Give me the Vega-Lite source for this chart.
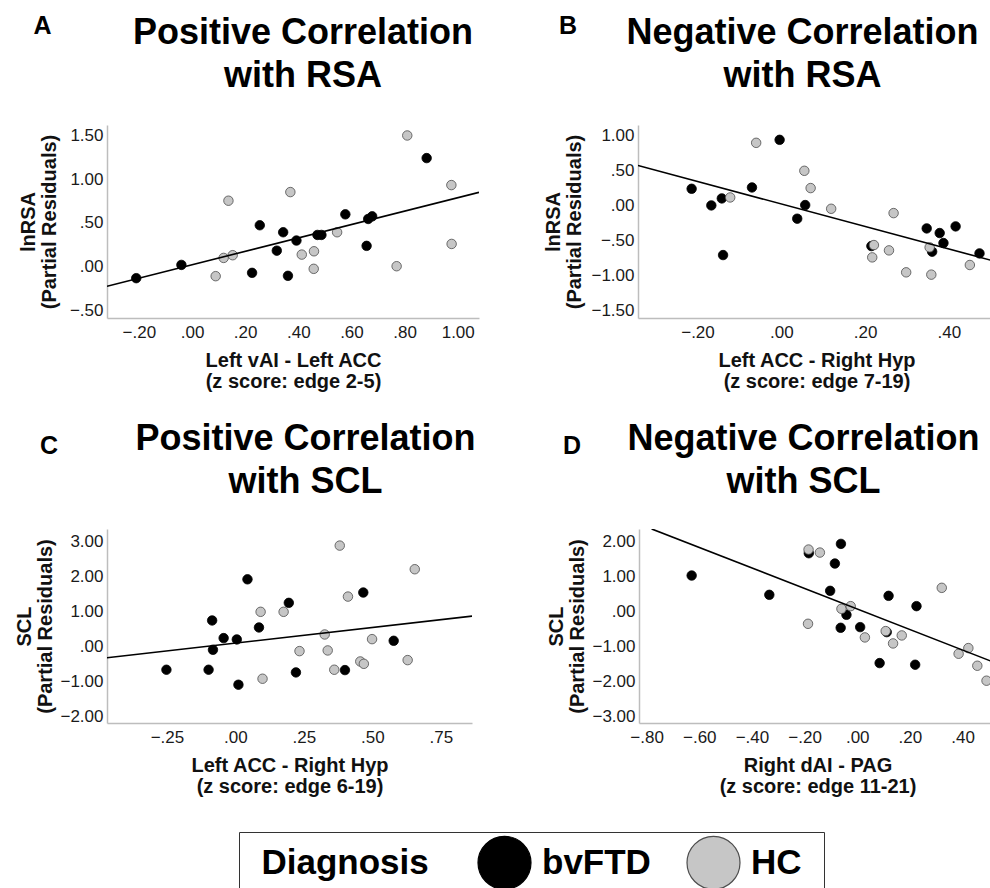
{
"$schema":"https://vega.github.io/schema/vega-lite/v6.json",
"background":"white",
"padding":{"left":14,"top":14,"right":0,"bottom":0},
"config":{
 "font":"Liberation Sans",
 "view":{"stroke":null},
 "axis":{"domainColor":"#bdbdbd","domainWidth":1.5,"ticks":false,"grid":false,"labelFont":"Liberation Sans","labelFontSize":17,"labelColor":"#1a1a1a","titleFont":"Liberation Sans","titleFontSize":20,"titleFontWeight":"bold","titleColor":"#111111","titleLineHeight":21},
 "axisX":{"labelPadding":6,"titlePadding":10},
 "axisY":{"labelPadding":4},
 "title":{"font":"Liberation Sans","fontSize":36,"fontWeight":"bold","color":"#000000","lineHeight":43}
},
"datasets":{
 "pts":[
  {"panel":"A","Diagnosis":"bvFTD","x":-0.21,"y":-0.134},
  {"panel":"A","Diagnosis":"bvFTD","x":-0.04,"y":0.018},
  {"panel":"A","Diagnosis":"bvFTD","x":0.226,"y":-0.073},
  {"panel":"A","Diagnosis":"bvFTD","x":0.255,"y":0.472},
  {"panel":"A","Diagnosis":"bvFTD","x":0.319,"y":0.181},
  {"panel":"A","Diagnosis":"bvFTD","x":0.343,"y":0.392},
  {"panel":"A","Diagnosis":"bvFTD","x":0.361,"y":-0.107},
  {"panel":"A","Diagnosis":"bvFTD","x":0.393,"y":0.297},
  {"panel":"A","Diagnosis":"bvFTD","x":0.472,"y":0.361},
  {"panel":"A","Diagnosis":"bvFTD","x":0.487,"y":0.361},
  {"panel":"A","Diagnosis":"bvFTD","x":0.577,"y":0.597},
  {"panel":"A","Diagnosis":"bvFTD","x":0.657,"y":0.236},
  {"panel":"A","Diagnosis":"bvFTD","x":0.663,"y":0.544},
  {"panel":"A","Diagnosis":"bvFTD","x":0.678,"y":0.574},
  {"panel":"A","Diagnosis":"bvFTD","x":0.883,"y":1.241},
  {"panel":"A","Diagnosis":"HC","x":0.089,"y":-0.111},
  {"panel":"A","Diagnosis":"HC","x":0.119,"y":0.098},
  {"panel":"A","Diagnosis":"HC","x":0.137,"y":0.753},
  {"panel":"A","Diagnosis":"HC","x":0.153,"y":0.129},
  {"panel":"A","Diagnosis":"HC","x":0.370,"y":0.852},
  {"panel":"A","Diagnosis":"HC","x":0.413,"y":0.136},
  {"panel":"A","Diagnosis":"HC","x":0.459,"y":0.174},
  {"panel":"A","Diagnosis":"HC","x":0.458,"y":-0.027},
  {"panel":"A","Diagnosis":"HC","x":0.546,"y":0.392},
  {"panel":"A","Diagnosis":"HC","x":0.770,"y":0.003},
  {"panel":"A","Diagnosis":"HC","x":0.810,"y":1.500},
  {"panel":"A","Diagnosis":"HC","x":0.976,"y":0.932},
  {"panel":"A","Diagnosis":"HC","x":0.977,"y":0.258},
  {"panel":"B","Diagnosis":"bvFTD","x":-0.214,"y":0.238},
  {"panel":"B","Diagnosis":"bvFTD","x":-0.167,"y":0.0},
  {"panel":"B","Diagnosis":"bvFTD","x":-0.142,"y":0.1},
  {"panel":"B","Diagnosis":"bvFTD","x":-0.139,"y":-0.71},
  {"panel":"B","Diagnosis":"bvFTD","x":-0.070,"y":0.257},
  {"panel":"B","Diagnosis":"bvFTD","x":-0.004,"y":0.938},
  {"panel":"B","Diagnosis":"bvFTD","x":0.038,"y":-0.19},
  {"panel":"B","Diagnosis":"bvFTD","x":0.057,"y":0.005},
  {"panel":"B","Diagnosis":"bvFTD","x":0.215,"y":-0.581},
  {"panel":"B","Diagnosis":"bvFTD","x":0.347,"y":-0.329},
  {"panel":"B","Diagnosis":"bvFTD","x":0.360,"y":-0.662},
  {"panel":"B","Diagnosis":"bvFTD","x":0.378,"y":-0.395},
  {"panel":"B","Diagnosis":"bvFTD","x":0.387,"y":-0.538},
  {"panel":"B","Diagnosis":"bvFTD","x":0.416,"y":-0.3},
  {"panel":"B","Diagnosis":"bvFTD","x":0.473,"y":-0.686},
  {"panel":"B","Diagnosis":"HC","x":-0.122,"y":0.114},
  {"panel":"B","Diagnosis":"HC","x":-0.060,"y":0.895},
  {"panel":"B","Diagnosis":"HC","x":0.055,"y":0.495},
  {"panel":"B","Diagnosis":"HC","x":0.070,"y":0.248},
  {"panel":"B","Diagnosis":"HC","x":0.119,"y":-0.048},
  {"panel":"B","Diagnosis":"HC","x":0.221,"y":-0.567},
  {"panel":"B","Diagnosis":"HC","x":0.217,"y":-0.743},
  {"panel":"B","Diagnosis":"HC","x":0.257,"y":-0.643},
  {"panel":"B","Diagnosis":"HC","x":0.268,"y":-0.11},
  {"panel":"B","Diagnosis":"HC","x":0.298,"y":-0.957},
  {"panel":"B","Diagnosis":"HC","x":0.354,"y":-0.6},
  {"panel":"B","Diagnosis":"HC","x":0.358,"y":-0.99},
  {"panel":"B","Diagnosis":"HC","x":0.450,"y":-0.852},
  {"panel":"C","Diagnosis":"bvFTD","x":-0.252,"y":-0.669},
  {"panel":"C","Diagnosis":"bvFTD","x":-0.098,"y":-0.669},
  {"panel":"C","Diagnosis":"bvFTD","x":-0.085,"y":0.738},
  {"panel":"C","Diagnosis":"bvFTD","x":-0.082,"y":-0.099},
  {"panel":"C","Diagnosis":"bvFTD","x":-0.043,"y":0.234},
  {"panel":"C","Diagnosis":"bvFTD","x":0.005,"y":0.196},
  {"panel":"C","Diagnosis":"bvFTD","x":0.011,"y":-1.097},
  {"panel":"C","Diagnosis":"bvFTD","x":0.044,"y":1.913},
  {"panel":"C","Diagnosis":"bvFTD","x":0.086,"y":0.538},
  {"panel":"C","Diagnosis":"bvFTD","x":0.195,"y":1.241},
  {"panel":"C","Diagnosis":"bvFTD","x":0.221,"y":-0.745},
  {"panel":"C","Diagnosis":"bvFTD","x":0.400,"y":-0.679},
  {"panel":"C","Diagnosis":"bvFTD","x":0.467,"y":1.536},
  {"panel":"C","Diagnosis":"bvFTD","x":0.578,"y":0.158},
  {"panel":"C","Diagnosis":"HC","x":0.092,"y":0.985},
  {"panel":"C","Diagnosis":"HC","x":0.099,"y":-0.926},
  {"panel":"C","Diagnosis":"HC","x":0.176,"y":0.985},
  {"panel":"C","Diagnosis":"HC","x":0.234,"y":-0.137},
  {"panel":"C","Diagnosis":"HC","x":0.326,"y":0.338},
  {"panel":"C","Diagnosis":"HC","x":0.337,"y":-0.118},
  {"panel":"C","Diagnosis":"HC","x":0.361,"y":-0.669},
  {"panel":"C","Diagnosis":"HC","x":0.381,"y":2.876},
  {"panel":"C","Diagnosis":"HC","x":0.411,"y":1.42},
  {"panel":"C","Diagnosis":"HC","x":0.456,"y":-0.433},
  {"panel":"C","Diagnosis":"HC","x":0.469,"y":-0.5},
  {"panel":"C","Diagnosis":"HC","x":0.499,"y":0.205},
  {"panel":"C","Diagnosis":"HC","x":0.629,"y":-0.394},
  {"panel":"C","Diagnosis":"HC","x":0.655,"y":2.201},
  {"panel":"D","Diagnosis":"bvFTD","x":-0.629,"y":1.019},
  {"panel":"D","Diagnosis":"bvFTD","x":-0.334,"y":0.467},
  {"panel":"D","Diagnosis":"bvFTD","x":-0.184,"y":1.657},
  {"panel":"D","Diagnosis":"bvFTD","x":-0.103,"y":0.581},
  {"panel":"D","Diagnosis":"bvFTD","x":-0.085,"y":1.362},
  {"panel":"D","Diagnosis":"bvFTD","x":-0.062,"y":1.924},
  {"panel":"D","Diagnosis":"bvFTD","x":-0.063,"y":-0.476},
  {"panel":"D","Diagnosis":"bvFTD","x":-0.041,"y":-0.105},
  {"panel":"D","Diagnosis":"bvFTD","x":0.011,"y":-0.457},
  {"panel":"D","Diagnosis":"bvFTD","x":0.085,"y":-1.486},
  {"panel":"D","Diagnosis":"bvFTD","x":0.112,"y":-0.6},
  {"panel":"D","Diagnosis":"bvFTD","x":0.119,"y":0.438},
  {"panel":"D","Diagnosis":"bvFTD","x":0.220,"y":-1.533},
  {"panel":"D","Diagnosis":"bvFTD","x":0.225,"y":0.143},
  {"panel":"D","Diagnosis":"HC","x":-0.187,"y":-0.362},
  {"panel":"D","Diagnosis":"HC","x":-0.185,"y":1.762},
  {"panel":"D","Diagnosis":"HC","x":-0.142,"y":1.676},
  {"panel":"D","Diagnosis":"HC","x":-0.060,"y":0.067},
  {"panel":"D","Diagnosis":"HC","x":-0.025,"y":0.143},
  {"panel":"D","Diagnosis":"HC","x":0.029,"y":-0.752},
  {"panel":"D","Diagnosis":"HC","x":0.108,"y":-0.571},
  {"panel":"D","Diagnosis":"HC","x":0.136,"y":-0.924},
  {"panel":"D","Diagnosis":"HC","x":0.169,"y":-0.695},
  {"panel":"D","Diagnosis":"HC","x":0.321,"y":0.667},
  {"panel":"D","Diagnosis":"HC","x":0.385,"y":-1.219},
  {"panel":"D","Diagnosis":"HC","x":0.422,"y":-1.057},
  {"panel":"D","Diagnosis":"HC","x":0.456,"y":-1.562},
  {"panel":"D","Diagnosis":"HC","x":0.491,"y":-1.99}
 ],
 "fits":[
  {"panel":"A","x":-0.32,"y":-0.226},{"panel":"A","x":1.08,"y":0.849},
  {"panel":"B","x":-0.342,"y":0.571},{"panel":"B","x":0.51,"y":-0.8},
  {"panel":"C","x":-0.469,"y":-0.327},{"panel":"C","x":0.864,"y":0.861},
  {"panel":"D","x":-0.781,"y":2.352},{"panel":"D","x":0.527,"y":-1.486}
 ]
},
"spacing":30,
"vconcat":[
 {"spacing":64,"hconcat":[
  {"title":{"text":"A","anchor":"start","frame":"bounds","fontSize":25,"offset":-24,"dx":15},
   "vconcat":[{
    "width":372,"height":193,
    "title":{"text":["Positive Correlation","with RSA"],"offset":30,"dx":10},
    "encoding":{
     "x":{"field":"x","type":"quantitative","scale":{"domain":[-0.32,1.08],"nice":false,"zero":false},"axis":{"values":[-0.2,0,0.2,0.4,0.6,0.8,1.0],"labelExpr":"replace(format(datum.value, '.2f'), '0.', '.')","title":["Left vAI - Left ACC","(z score: edge 2-5)"]}},
     "y":{"field":"y","type":"quantitative","scale":{"domain":[-0.59,1.62],"nice":false,"zero":false},"axis":{"values":[-0.5,0,0.5,1.0,1.5],"labelExpr":"replace(format(datum.value, '.2f'), '0.', '.')","title":["lnRSA","(Partial Residuals)"],"titlePadding":10}}
    },
    "layer":[
     {"data":{"name":"pts"},"transform":[{"filter":"datum.panel == 'A'"}],
      "mark":{"type":"circle","size":90,"opacity":1,"strokeWidth":0.8},
      "encoding":{
       "fill":{"field":"Diagnosis","type":"nominal","scale":{"domain":["bvFTD","HC"],"range":["#000000","#c6c6c6"]},"legend":{"title":"\u200b\u00a0\u00a0Diagnosis","orient":"none","legendX":132,"legendY":707,"direction":"horizontal","titleOrient":"left","titleAnchor":"middle","titleBaseline":"middle","titleFontSize":35,"titleFontWeight":"bold","titleColor":"#000000","titlePadding":48,"titleLimit":500,"labelFontSize":35,"labelFontWeight":"bold","labelColor":"#000000","labelOffset":10,"labelLimit":500,"labelExpr":"datum.label == 'HC' ? 'HC\u00a0\u00a0\u200b' : datum.label","symbolSize":2809,"symbolType":"circle","symbolStrokeWidth":1.2,"columnPadding":33,"padding":3,"strokeColor":"#333333"}},
       "stroke":{"field":"Diagnosis","type":"nominal","scale":{"domain":["bvFTD","HC"],"range":["#000000","#4d4d4d"]},"legend":{"title":"\u200b\u00a0\u00a0Diagnosis","orient":"none","legendX":132,"legendY":707,"direction":"horizontal","titleOrient":"left","titleAnchor":"middle","titleBaseline":"middle","titleFontSize":35,"titleFontWeight":"bold","titleColor":"#000000","titlePadding":48,"titleLimit":500,"labelFontSize":35,"labelFontWeight":"bold","labelColor":"#000000","labelOffset":10,"labelLimit":500,"labelExpr":"datum.label == 'HC' ? 'HC\u00a0\u00a0\u200b' : datum.label","symbolSize":2809,"symbolType":"circle","symbolStrokeWidth":1.2,"columnPadding":33,"padding":3,"strokeColor":"#333333"}}
      }},
     {"data":{"name":"fits"},"transform":[{"filter":"datum.panel == 'A'"}],"mark":{"type":"line","color":"#000000","strokeWidth":1.6,"clip":true},"encoding":{}}
    ]
   }]
  },
  {"title":{"text":"B","anchor":"start","frame":"bounds","fontSize":25,"offset":-24,"dx":15},
   "vconcat":[{
    "width":357,"height":193,
    "title":{"text":["Negative Correlation","with RSA"],"offset":30,"dx":-14},
    "encoding":{
     "x":{"field":"x","type":"quantitative","scale":{"domain":[-0.342,0.51],"nice":false,"zero":false},"axis":{"values":[-0.2,0,0.2,0.4],"labelExpr":"replace(format(datum.value, '.2f'), '0.', '.')","title":["Left ACC - Right Hyp","(z score: edge 7-19)"]}},
     "y":{"field":"y","type":"quantitative","scale":{"domain":[-1.61,1.15],"nice":false,"zero":false},"axis":{"values":[-1.5,-1.0,-0.5,0,0.5,1.0],"labelExpr":"replace(format(datum.value, '.2f'), '0.', '.')","title":["lnRSA","(Partial Residuals)"],"titlePadding":6}}
    },
    "layer":[
     {"data":{"name":"pts"},"transform":[{"filter":"datum.panel == 'B'"}],
      "mark":{"type":"circle","size":90,"opacity":1,"strokeWidth":0.8},
      "encoding":{
       "fill":{"field":"Diagnosis","type":"nominal","scale":{"domain":["bvFTD","HC"],"range":["#000000","#c6c6c6"]}},
       "stroke":{"field":"Diagnosis","type":"nominal","scale":{"domain":["bvFTD","HC"],"range":["#000000","#4d4d4d"]}}
      }},
     {"data":{"name":"fits"},"transform":[{"filter":"datum.panel == 'B'"}],"mark":{"type":"line","color":"#000000","strokeWidth":1.6,"clip":true},"encoding":{}}
    ]
   }]
  }
 ]},
 {"spacing":70,"hconcat":[
  {"title":{"text":"C","anchor":"start","frame":"bounds","fontSize":25,"offset":-38,"dx":25},
   "vconcat":[{
    "width":365,"height":194,
    "title":{"text":["Positive Correlation","with SCL"],"offset":28,"dx":16},
    "encoding":{
     "x":{"field":"x","type":"quantitative","scale":{"domain":[-0.469,0.864],"nice":false,"zero":false},"axis":{"values":[-0.25,0,0.25,0.5,0.75],"labelExpr":"replace(format(datum.value, '.2f'), '0.', '.')","title":["Left ACC - Right Hyp","(z score: edge 6-19)"]}},
     "y":{"field":"y","type":"quantitative","scale":{"domain":[-2.19,3.35],"nice":false,"zero":false},"axis":{"values":[-2,-1,0,1,2,3],"labelExpr":"replace(format(datum.value, '.2f'), '0.', '.')","title":["SCL","(Partial Residuals)"],"titlePadding":4}}
    },
    "layer":[
     {"data":{"name":"pts"},"transform":[{"filter":"datum.panel == 'C'"}],
      "mark":{"type":"circle","size":90,"opacity":1,"strokeWidth":0.8},
      "encoding":{
       "fill":{"field":"Diagnosis","type":"nominal","scale":{"domain":["bvFTD","HC"],"range":["#000000","#c6c6c6"]}},
       "stroke":{"field":"Diagnosis","type":"nominal","scale":{"domain":["bvFTD","HC"],"range":["#000000","#4d4d4d"]}}
      }},
     {"data":{"name":"fits"},"transform":[{"filter":"datum.panel == 'C'"}],"mark":{"type":"line","color":"#000000","strokeWidth":1.6,"clip":true},"encoding":{}}
    ]
   }]
  },
  {"title":{"text":"D","anchor":"start","frame":"bounds","fontSize":25,"offset":-38,"dx":16},
   "vconcat":[{
    "width":357,"height":194,
    "title":{"text":["Negative Correlation","with SCL"],"offset":28,"dx":-14},
    "encoding":{
     "x":{"field":"x","type":"quantitative","scale":{"domain":[-0.829,0.527],"nice":false,"zero":false},"axis":{"values":[-0.8,-0.6,-0.4,-0.2,0,0.2,0.4],"labelExpr":"replace(format(datum.value, '.2f'), '0.', '.')","title":["Right dAI - PAG","(z score: edge 11-21)"]}},
     "y":{"field":"y","type":"quantitative","scale":{"domain":[-3.2,2.35],"nice":false,"zero":false},"axis":{"values":[-3,-2,-1,0,1,2],"labelExpr":"replace(format(datum.value, '.2f'), '0.', '.')","title":["SCL","(Partial Residuals)"],"titlePadding":4}}
    },
    "layer":[
     {"data":{"name":"pts"},"transform":[{"filter":"datum.panel == 'D'"}],
      "mark":{"type":"circle","size":90,"opacity":1,"strokeWidth":0.8},
      "encoding":{
       "fill":{"field":"Diagnosis","type":"nominal","scale":{"domain":["bvFTD","HC"],"range":["#000000","#c6c6c6"]}},
       "stroke":{"field":"Diagnosis","type":"nominal","scale":{"domain":["bvFTD","HC"],"range":["#000000","#4d4d4d"]}}
      }},
     {"data":{"name":"fits"},"transform":[{"filter":"datum.panel == 'D'"}],"mark":{"type":"line","color":"#000000","strokeWidth":1.6,"clip":true},"encoding":{}}
    ]
   }]
  }
 ]}
]
}
